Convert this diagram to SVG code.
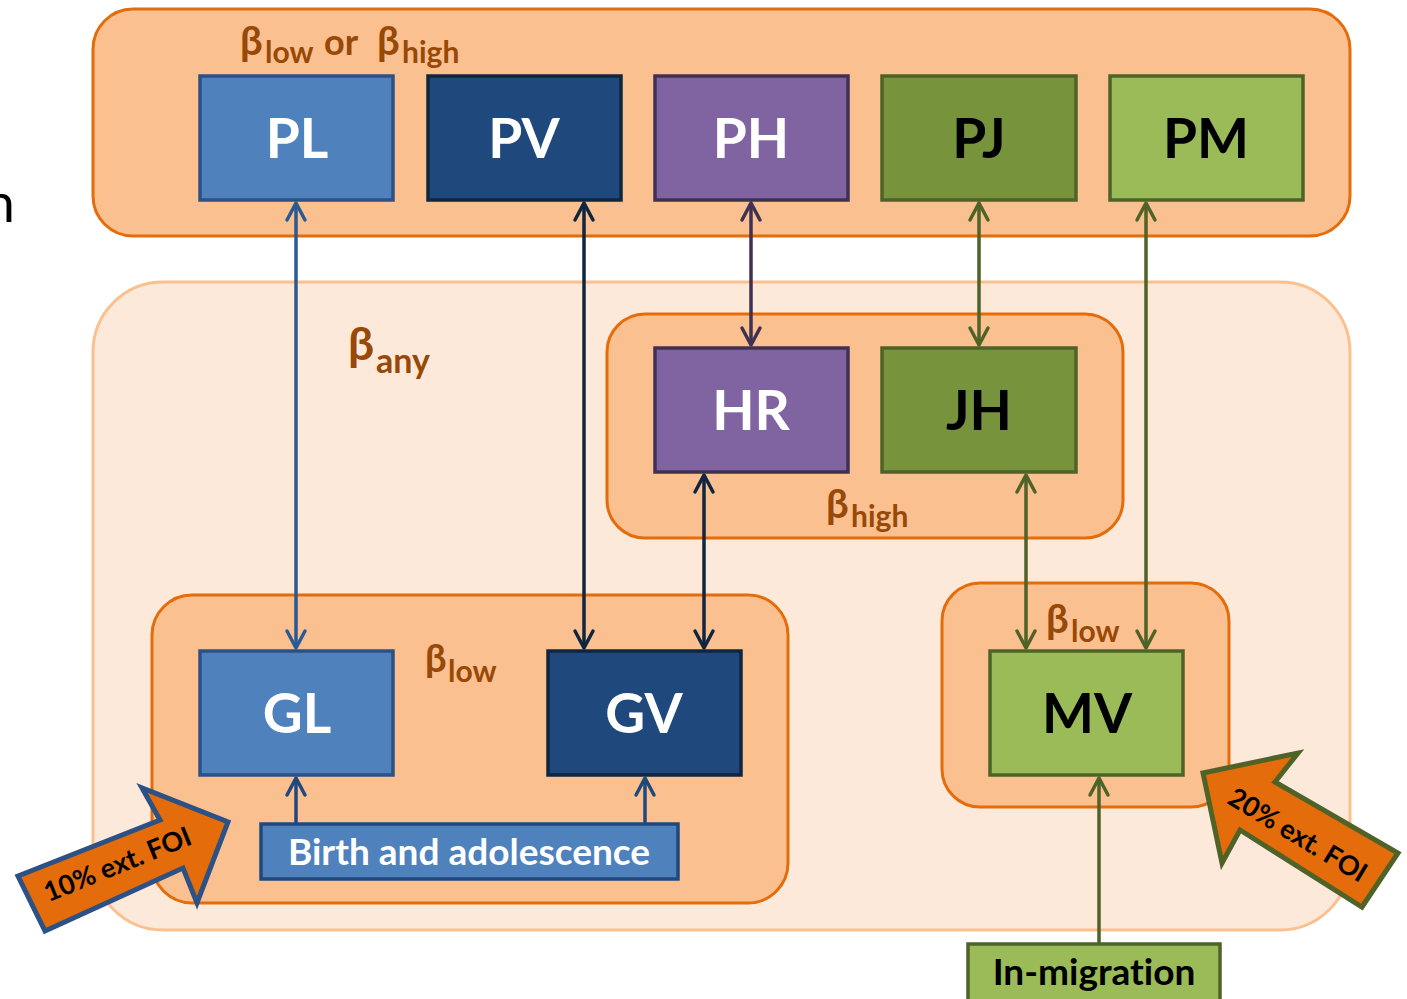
<svg xmlns="http://www.w3.org/2000/svg" width="1407" height="999" viewBox="0 0 1407 999">
<style>
text{font-variant-ligatures:none}
.bg{fill:#FDE9D9;stroke:#FAC090;stroke-width:3}
.grp{fill:#FAC090;stroke:#E46C0A;stroke-width:3}
.node{stroke-width:3.5}
.lbl{font-family:Lato,"Open Sans","DejaVu Sans",sans-serif;font-weight:bold;font-size:55px;text-anchor:middle}
.beta{font-family:Lato,"Open Sans","DejaVu Sans",sans-serif;font-weight:bold;fill:#984807}
.small{font-family:Lato,"Open Sans","DejaVu Sans",sans-serif;font-weight:bold;font-size:37px;text-anchor:middle}
.foi{font-family:Lato,"Open Sans","DejaVu Sans",sans-serif;font-weight:bold;font-size:27px;text-anchor:middle;fill:#000}
.w{fill:#fff}.k{fill:#000}
.conn{fill:none;stroke-width:3.5}
</style>
<defs>
<marker id="mBlue" markerUnits="userSpaceOnUse" viewBox="-20 -12 24 24" refX="0" refY="0" markerWidth="24" markerHeight="24" orient="auto-start-reverse"><path d="M-17,-9 L0,0 L-17,9" fill="none" stroke="#2B5A92" stroke-width="3.5" stroke-linecap="round" stroke-linejoin="round"/></marker>
<marker id="mNavy" markerUnits="userSpaceOnUse" viewBox="-20 -12 24 24" refX="0" refY="0" markerWidth="24" markerHeight="24" orient="auto-start-reverse"><path d="M-17,-9 L0,0 L-17,9" fill="none" stroke="#10253F" stroke-width="3.5" stroke-linecap="round" stroke-linejoin="round"/></marker>
<marker id="mPurple" markerUnits="userSpaceOnUse" viewBox="-20 -12 24 24" refX="0" refY="0" markerWidth="24" markerHeight="24" orient="auto-start-reverse"><path d="M-17,-9 L0,0 L-17,9" fill="none" stroke="#403152" stroke-width="3.5" stroke-linecap="round" stroke-linejoin="round"/></marker>
<marker id="mGreen" markerUnits="userSpaceOnUse" viewBox="-20 -12 24 24" refX="0" refY="0" markerWidth="24" markerHeight="24" orient="auto-start-reverse"><path d="M-17,-9 L0,0 L-17,9" fill="none" stroke="#4F6228" stroke-width="3.5" stroke-linecap="round" stroke-linejoin="round"/></marker>
<marker id="mBirth" markerUnits="userSpaceOnUse" viewBox="-20 -12 24 24" refX="0" refY="0" markerWidth="24" markerHeight="24" orient="auto-start-reverse"><path d="M-17,-9 L0,0 L-17,9" fill="none" stroke="#1F497D" stroke-width="3.5" stroke-linecap="round" stroke-linejoin="round"/></marker>
</defs>

<text x="15" y="222" font-family="Lato,'Open Sans',sans-serif" font-size="54" text-anchor="end" fill="#000">n</text>

<g id="top-group">
<rect class="grp" x="93" y="9" width="1257" height="227" rx="40"/>
<text class="beta"><tspan x="240" y="55" font-size="40">β</tspan><tspan x="265" y="63" font-size="30">low</tspan><tspan x="324" y="55" font-size="36">or</tspan><tspan x="377" y="55" font-size="40">β</tspan><tspan x="402" y="63" font-size="30">high</tspan></text>
</g>

<g id="lower-group">
<rect class="bg" x="93" y="282" width="1257" height="648" rx="70"/>
<text class="beta"><tspan x="348" y="360" font-size="46">β</tspan><tspan x="376" y="373" font-size="34">any</tspan></text>
</g>

<g id="high-group">
<rect class="grp" x="607" y="314" width="516" height="224" rx="38"/>
<text class="beta"><tspan x="826" y="518" font-size="40">β</tspan><tspan x="851" y="527" font-size="30">high</tspan></text>
</g>

<g id="low-group-G">
<rect class="grp" x="152" y="595" width="636" height="308" rx="40"/>
<text class="beta"><tspan x="425" y="672" font-size="38">β</tspan><tspan x="448" y="682" font-size="30">low</tspan></text>
</g>

<g id="low-group-M">
<rect class="grp" x="942" y="583" width="287" height="224" rx="38"/>
<text class="beta"><tspan x="1046" y="633" font-size="40">β</tspan><tspan x="1071" y="642" font-size="30">low</tspan></text>
</g>

<g id="PL"><rect class="node" x="200" y="76" width="193" height="124" fill="#4F81BD" stroke="#2B5186"/><text class="lbl w" x="297" y="158">PL</text></g>
<g id="PV"><rect class="node" x="428" y="76" width="193" height="124" fill="#1F497D" stroke="#10253F"/><text class="lbl w" x="524" y="158">PV</text></g>
<g id="PH"><rect class="node" x="655" y="76" width="193" height="124" fill="#8064A2" stroke="#403152"/><text class="lbl w" x="751" y="158">PH</text></g>
<g id="PJ"><rect class="node" x="882" y="76" width="194" height="124" fill="#77933C" stroke="#4F6228"/><text class="lbl k" x="979" y="158">PJ</text></g>
<g id="PM"><rect class="node" x="1110" y="76" width="193" height="124" fill="#9BBB59" stroke="#4F6228"/><text class="lbl k" x="1206" y="158">PM</text></g>
<g id="HR"><rect class="node" x="655" y="348" width="193" height="124" fill="#8064A2" stroke="#403152"/><text class="lbl w" x="751" y="430">HR</text></g>
<g id="JH"><rect class="node" x="882" y="348" width="194" height="124" fill="#77933C" stroke="#4F6228"/><text class="lbl k" x="979" y="430">JH</text></g>
<g id="GL"><rect class="node" x="200" y="651" width="193" height="124" fill="#4F81BD" stroke="#2B5186"/><text class="lbl w" x="297" y="733">GL</text></g>
<g id="GV"><rect class="node" x="548" y="651" width="193" height="124" fill="#1F497D" stroke="#10253F"/><text class="lbl w" x="644" y="733">GV</text></g>
<g id="MV"><rect class="node" x="990" y="651" width="193" height="124" fill="#9BBB59" stroke="#4F6228"/><text class="lbl k" x="1087" y="733">MV</text></g>
<g id="Birth"><rect class="node" x="261" y="824" width="417" height="55" fill="#4F81BD" stroke="#1F497D"/><text class="small w" x="469" y="865">Birth and adolescence</text></g>
<g id="InMigration"><rect class="node" x="968" y="944" width="252" height="60" fill="#9BBB59" stroke="#4F6228"/><text class="small k" x="1094" y="985">In-migration</text></g>

<g id="connectors">
<line class="conn" x1="296" y1="203" x2="296" y2="648" stroke="#2B5A92" marker-start="url(#mBlue)" marker-end="url(#mBlue)"/>
<line class="conn" x1="584" y1="203" x2="584" y2="648" stroke="#10253F" marker-start="url(#mNavy)" marker-end="url(#mNavy)"/>
<line class="conn" x1="751" y1="203" x2="751" y2="345" stroke="#403152" marker-start="url(#mPurple)" marker-end="url(#mPurple)"/>
<line class="conn" x1="979" y1="203" x2="979" y2="345" stroke="#4F6228" marker-start="url(#mGreen)" marker-end="url(#mGreen)"/>
<line class="conn" x1="1146" y1="203" x2="1146" y2="648" stroke="#4F6228" marker-start="url(#mGreen)" marker-end="url(#mGreen)"/>
<line class="conn" x1="704" y1="475" x2="704" y2="648" stroke="#10253F" marker-start="url(#mNavy)" marker-end="url(#mNavy)"/>
<line class="conn" x1="1026" y1="475" x2="1026" y2="648" stroke="#4F6228" marker-start="url(#mGreen)" marker-end="url(#mGreen)"/>
<line class="conn" x1="296" y1="824" x2="296" y2="778" stroke="#1F497D" marker-end="url(#mBirth)"/>
<line class="conn" x1="645" y1="824" x2="645" y2="778" stroke="#1F497D" marker-end="url(#mBirth)"/>
<line class="conn" x1="1099" y1="944" x2="1099" y2="778" stroke="#4F6228" marker-end="url(#mGreen)"/>
</g>

<g id="foi-left">
<polygon points="18,876 160,820 142,788 228,822 197,903 183,868 45,931" fill="#E46C0A" stroke="#2B5186" stroke-width="5" stroke-linejoin="miter"/>
<text class="foi" transform="translate(121,873) rotate(-22)">10% ext. FOI</text>
</g>
<g id="foi-right">
<polygon points="1203,773 1298,753 1275,782 1398,853 1362,907 1240,830 1222,863" fill="#E46C0A" stroke="#4F6228" stroke-width="5" stroke-linejoin="miter"/>
<text class="foi" transform="translate(1293,843) rotate(31)">20% ext. FOI</text>
</g>
</svg>
